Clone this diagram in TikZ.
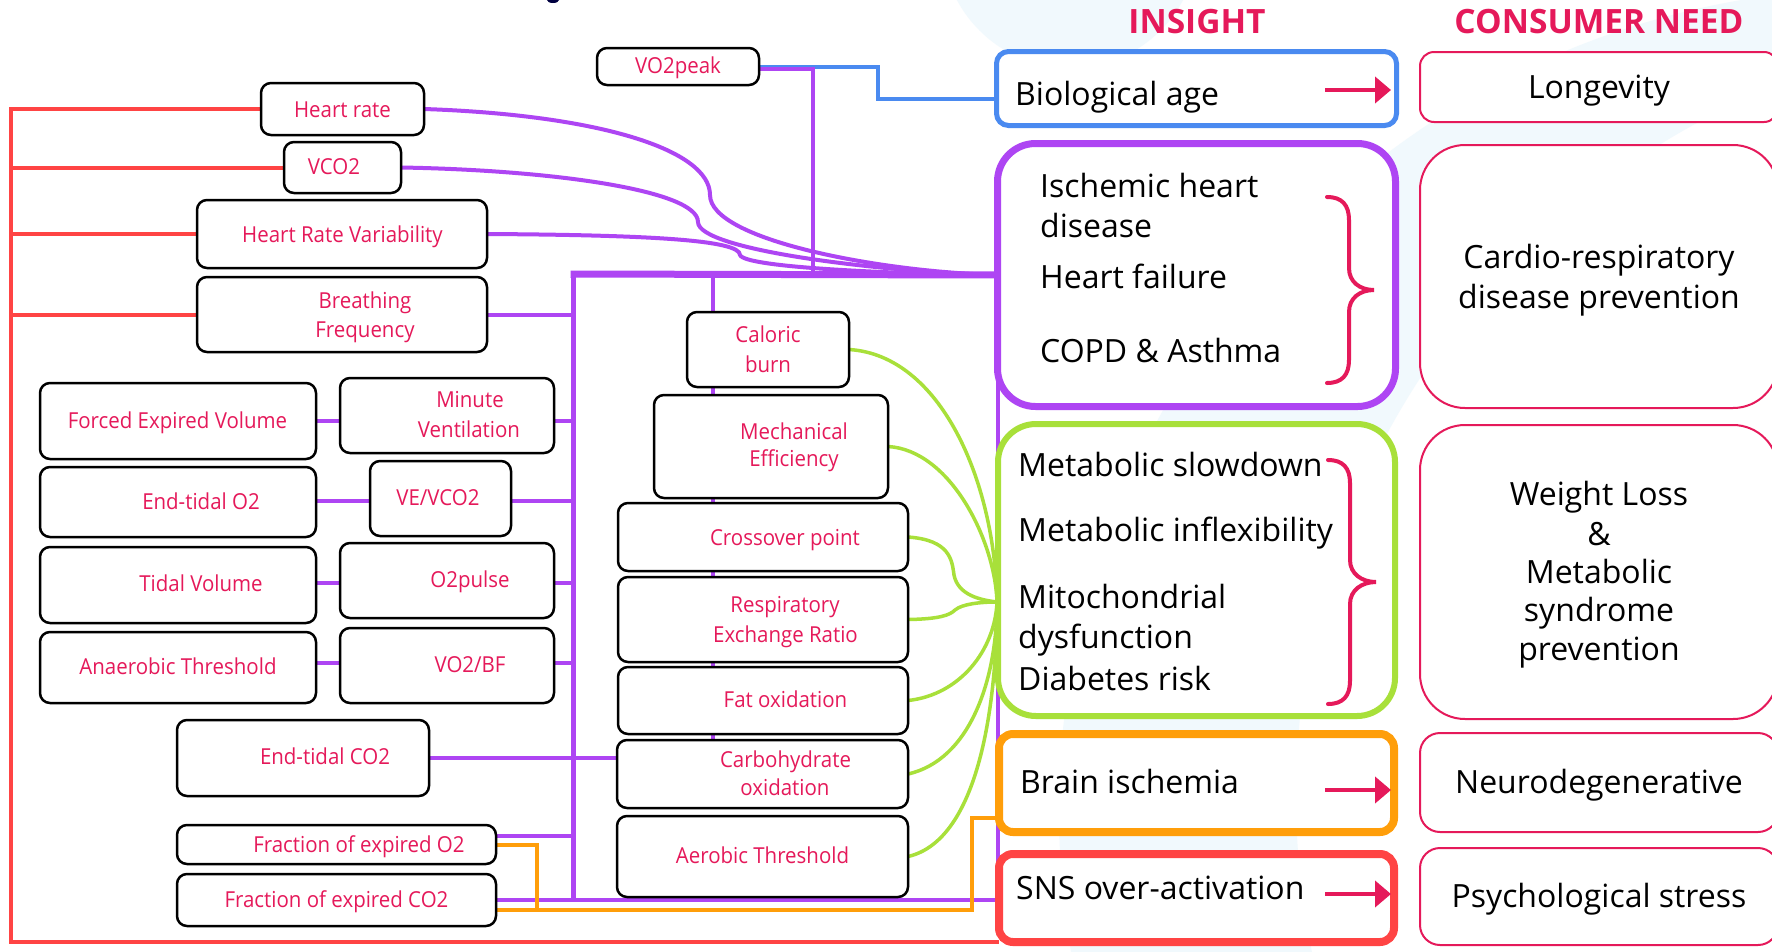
\documentclass[tikz,border=0pt]{standalone}
\usepackage{fontspec}
\setmainfont{Open Sans}
\newfontfamily\lfont[FakeStretch=0.93]{Open Sans}
\usetikzlibrary{arrows.meta}
\pgfdeclarelayer{back}
\pgfdeclarelayer{bg}
\pgfsetlayers{back,bg,main}
\definecolor{crim}{HTML}{E5195A}
\definecolor{lred}{HTML}{FF4444}
\definecolor{purp}{HTML}{AE45F3}
\definecolor{blu}{HTML}{4A8AF0}
\definecolor{grn}{HTML}{A8E03A}
\definecolor{org}{HTML}{FF9E0A}
\definecolor{bgc}{HTML}{F1F9FD}
\newcommand\lbox[5]{\node[bx, minimum width=#4pt, minimum height=#5pt] (#1) at (#2,#3) {};}
\newcommand\ltx[4]{\node[lt] (#1) at (#2,#3) {#4};}
\begin{document}
\begin{tikzpicture}[x=1pt,y=-1pt,
  bx/.style={rectangle, draw=black, line width=2.5pt, rounded corners=10pt, fill=white, inner sep=0pt, outer sep=0pt},
  lt/.style={text=crim, font=\lfont\fontsize{22}{26}\selectfont, anchor=base, inner sep=0pt},
  rt/.style={text=black, font=\fontsize{32}{38}\selectfont, anchor=base west, inner sep=0pt},
  ct/.style={text=black, font=\fontsize{32}{38}\selectfont, anchor=base, inner sep=0pt},
  ttl/.style={text=crim, font=\bfseries\fontsize{33.5}{38}\selectfont, anchor=base, inner sep=0pt},
  ib/.style={rectangle, fill=white, inner sep=0pt, outer sep=0pt},
  cb/.style={rectangle, draw=crim, line width=2pt, fill=white, inner sep=0pt, outer sep=0pt},
  redl/.style={draw=lred, line width=4pt},
  pl/.style={draw=purp, line width=4pt},
  bl/.style={draw=blu, line width=4pt},
  gl/.style={draw=grn, line width=3.5pt},
  ol/.style={draw=org, line width=4pt},
  arr/.style={draw=crim, line width=4pt, -{Triangle[length=16pt,width=26pt]}},
  brc/.style={draw=crim, line width=4pt, line cap=round}
]
\useasboundingbox (0,0) rectangle (1772,951);
\begin{pgfonlayer}{back}
\fill[white] (0,0) rectangle (1772,951);
\begin{scope}
\clip (0,0) rectangle (1772,951);
\fill[bgc, even odd rule] (1882,811) circle (823pt) (2061,796) circle (765pt);
\end{scope}
\fill[bgc] (1070,-60) circle (128pt);
\fill[black!75!blue] (553,0) ellipse (6pt and 3pt);
\end{pgfonlayer}

% ---------- titles ----------
\node[ttl] (tins) at (1197,33) {INSIGHT};
\node[ttl] (tcon) at (1599,33) {CONSUMER NEED};

% ---------- left boxes ----------
\lbox{hr}{342.5}{109}{163}{52}
\lbox{vco}{342.5}{167.5}{117}{51}
\lbox{hrv}{342}{234}{290}{68}
\lbox{bf}{342}{314.5}{290}{75}
\lbox{vo2p}{678}{66.5}{162}{37}
\lbox{fev}{178}{421}{276}{76}
\lbox{mv}{447}{415.5}{214}{75}
\lbox{eto2}{178}{502}{276}{70}
\lbox{vevco}{440.5}{498.5}{141}{75}
\lbox{tv}{178}{585}{276}{76}
\lbox{o2p}{447}{580.5}{214}{75}
\lbox{at}{178}{667.5}{276}{71}
\lbox{vbf}{447}{665.5}{214}{75}
\lbox{etco2}{303}{758}{252}{76}
\lbox{feo2}{336.5}{844.5}{319}{39}
\lbox{feco2}{336.5}{900}{319}{52}
\lbox{cal}{768}{349.5}{162}{75}
\lbox{me}{771}{446.5}{234}{103}
\lbox{co}{763}{537}{290}{68}
\lbox{rer}{763}{619.5}{290}{85}
\lbox{fo}{763}{700.5}{290}{67}
\lbox{cho}{762.5}{774}{291}{68}
\lbox{aet}{762.5}{856.5}{291}{81}

% ---------- insight boxes ----------
\node[ib, draw=blu, line width=5pt, rounded corners=12pt, minimum width=400pt, minimum height=74pt] (bio) at (1196.5,88.5) {};
\node[ib, draw=purp, line width=7pt, rounded corners=38pt, minimum width=398pt, minimum height=263pt] (pbox) at (1196.5,275) {};
\node[ib, draw=grn, line width=6pt, rounded corners=38pt, minimum width=397pt, minimum height=292pt] (gbox) at (1196.5,570) {};
\node[ib, draw=org, line width=8pt, rounded corners=14pt, minimum width=395pt, minimum height=98pt] (obox) at (1196.5,783) {};
\node[ib, draw=lred, line width=8pt, rounded corners=14pt, minimum width=395pt, minimum height=88pt] (sns) at (1196.5,898) {};

% ---------- consumer need boxes ----------
\node[cb, rounded corners=14pt, minimum width=358pt, minimum height=70pt] (lon) at (1599,87) {};
\node[cb, rounded corners=45pt, minimum width=358pt, minimum height=263pt] (card) at (1599,276.5) {};
\node[cb, rounded corners=45pt, minimum width=358pt, minimum height=294pt] (wl) at (1599,572) {};
\node[cb, rounded corners=20pt, minimum width=358pt, minimum height=99pt] (neu) at (1599,782.5) {};
\node[cb, rounded corners=20pt, minimum width=358pt, minimum height=97pt] (psy) at (1599,896.5) {};

% ---------- coordinates ----------
\coordinate (rtop) at (11,109);
\coordinate (rbot) at (11,942);
\coordinate (bustop) at (573,274);
\coordinate (busbot) at (573,900);
\coordinate (midtop) at (713,274);
\coordinate (vend) at (813,274);
\coordinate (gconv) at (997,602);
\coordinate (ojoin) at (537,910);

% ---------- connectors ----------
\begin{pgfonlayer}{bg}
% red loop
\draw[redl] (hr.west) -- (rtop) -- (rbot) -- (sns.west |- rbot);
\draw[redl] (vco.west) -- (vco.west -| rtop);
\draw[redl] (hrv.west) -- (hrv.west -| rtop);
\draw[redl] (bf.west) -- (bf.west -| rtop);
% blue
\draw[bl] (vo2p.east |- 0,67) -- (878,67) -- (878,99) -- (bio.west |- 0,99);
% purple
\draw[pl] (vo2p.east |- 0,69) -- (vend |- 0,69) -- (vend);
\draw[pl] (hr.east) .. controls (600,115) and (710,150) .. (710,195) .. controls (710,240) and (880,272) .. (pbox.west);
\draw[pl] (vco.east) .. controls (550,170) and (698,190) .. (698,222) .. controls (698,250) and (880,272) .. (pbox.west);
\draw[pl] (hrv.east) .. controls (650,235) and (740,240) .. (740,255) .. controls (745,268) and (900,274) .. (pbox.west);
\draw[pl, line width=7pt] (570.5,274) -- (pbox.west);
\draw[pl, line width=5pt] (bustop) -- (busbot);
\draw[pl] (bf.east) -- (bf.east -| bustop);
\draw[pl] (fev.east) -- (fev.east -| bustop);
\draw[pl] (eto2.east |- 0,501) -- (bustop |- 0,501);
\draw[pl] (tv.east |- 0,583) -- (bustop |- 0,583);
\draw[pl] (at.east |- 0,663) -- (bustop |- 0,663);
\draw[pl] (feo2.east |- 0,836) -- (bustop |- 0,836);
\draw[pl] (feco2.east) -- (feco2.east -| pbox.west) -- (pbox.west);
\draw[pl] (etco2.east) -- (etco2.east -| cho.west);
\draw[pl] (midtop) -- (midtop |- cho.north);
% orange
\draw[ol] (feo2.east) -- (ojoin |- feo2.east) -- (ojoin);
\draw[ol] (feco2.east |- 0,910) -- (972,910) -- (972,818) -- (obox.west |- 0,818);
% green
\draw[gl] (cal.east) .. controls (940,355) and (995,480) .. (gconv);
\draw[gl] (me.east) .. controls (950,450) and (995,540) .. (gconv);
\draw[gl] (co.east) .. controls (950,540) and (952,560) .. (954,575) .. controls (958,595) and (980,600) .. (gconv);
\draw[gl] (rer.east) .. controls (940,619) and (950,615) .. (955,610) .. controls (962,604) and (980,602) .. (gconv);
\draw[gl] (fo.east) .. controls (960,695) and (995,650) .. (gconv);
\draw[gl] (cho.east) .. controls (970,760) and (997,680) .. (gconv);
\draw[gl] (aet.east) .. controls (980,840) and (997,700) .. (gconv);
\end{pgfonlayer}

% ---------- left texts ----------
\ltx{t1}{342.5}{117}{Heart rate}
\ltx{t2}{334}{174}{VCO2}
\ltx{t3}{342.5}{242}{Heart Rate Variability}
\ltx{t4}{365}{308}{Breathing}
\ltx{t5}{365}{337}{Frequency}
\ltx{t6}{678}{73}{VO2peak}
\ltx{t7}{177.5}{428}{Forced Expired Volume}
\ltx{t8}{470}{407}{Minute}
\ltx{t9}{469}{437}{Ventilation}
\ltx{t10}{201}{509}{End-tidal O2}
\ltx{t11}{438}{505}{VE/VCO2}
\ltx{t12}{201}{591}{Tidal Volume}
\ltx{t13}{470}{587}{O2pulse}
\ltx{t14}{178}{674}{Anaerobic Threshold}
\ltx{t15}{470}{672}{VO2/BF}
\ltx{t16}{325}{764}{End-tidal CO2}
\ltx{t17}{359}{852}{Fraction of expired O2}
\ltx{t18}{336.5}{907}{Fraction of expired CO2}
\ltx{t19}{768}{342}{Caloric}
\ltx{t20}{768}{372}{burn}
\ltx{t21}{794}{439}{Mechanical}
\ltx{t22}{794}{466}{Efficiency}
\ltx{t23}{785}{545}{Crossover point}
\ltx{t24}{785}{612}{Respiratory}
\ltx{t25}{785.5}{642}{Exchange Ratio}
\ltx{t26}{785.5}{707}{Fat oxidation}
\ltx{t27}{785.5}{767}{Carbohydrate}
\ltx{t28}{785}{795}{oxidation}
\ltx{t29}{762.5}{863}{Aerobic Threshold}

% ---------- insight texts ----------
\node[rt] (r1) at (1015,105) {Biological age};
\node[rt] (r2) at (1040,197) {Ischemic heart};
\node[rt] (r3) at (1040,237) {disease};
\node[rt] (r4) at (1040,288) {Heart failure};
\node[rt] (r5) at (1040,362) {COPD \& Asthma};
\node[rt] (r6) at (1018,476) {Metabolic slowdown};
\node[rt] (r7) at (1018,541) {Metabolic inflexibility};
\node[rt] (r8) at (1018,608) {Mitochondrial};
\node[rt] (r9) at (1018,648) {dysfunction};
\node[rt] (r10) at (1018,690) {Diabetes risk};
\node[rt] (r11) at (1020,793) {Brain ischemia};
\node[rt] (r12) at (1016,899) {SNS over-activation};

% ---------- consumer texts ----------
\node[ct] (c1) at (1599,98) {Longevity};
\node[ct] (c2) at (1599,268) {Cardio-respiratory};
\node[ct] (c3) at (1599,308) {disease prevention};
\node[ct] (c4) at (1599,505) {Weight Loss};
\node[ct] (c5) at (1599,545) {\&};
\node[ct] (c6) at (1599,583) {Metabolic};
\node[ct] (c7) at (1599,621) {syndrome};
\node[ct] (c8) at (1599,660) {prevention};
\node[ct] (c9) at (1599,793) {Neurodegenerative};
\node[ct] (c10) at (1599,907) {Psychological stress};

% ---------- arrows ----------
\coordinate (a1s) at (1325,90); \coordinate (a1e) at (1391,90);
\coordinate (a2s) at (1325,790); \coordinate (a2e) at (1391,790);
\coordinate (a3s) at (1325,894); \coordinate (a3e) at (1391,894);
\draw[arr] (a1s) -- (a1e);
\draw[arr] (a2s) -- (a2e);
\draw[arr] (a3s) -- (a3e);

% ---------- braces ----------
\draw[brc] (1327,197) .. controls (1342,197) and (1349,205) .. (1349,220) -- (1349,268) .. controls (1349,282) and (1360,290) .. (1374,290) .. controls (1360,290) and (1349,298) .. (1349,312) -- (1349,360) .. controls (1349,375) and (1342,383) .. (1327,383);
\draw[brc] (1328,460) .. controls (1343,460) and (1350,468) .. (1350,483) -- (1350,560) .. controls (1350,574) and (1362,582) .. (1376,582) .. controls (1362,582) and (1350,590) .. (1350,604) -- (1350,681) .. controls (1350,696) and (1343,704) .. (1328,704);
\end{tikzpicture}
\end{document}
